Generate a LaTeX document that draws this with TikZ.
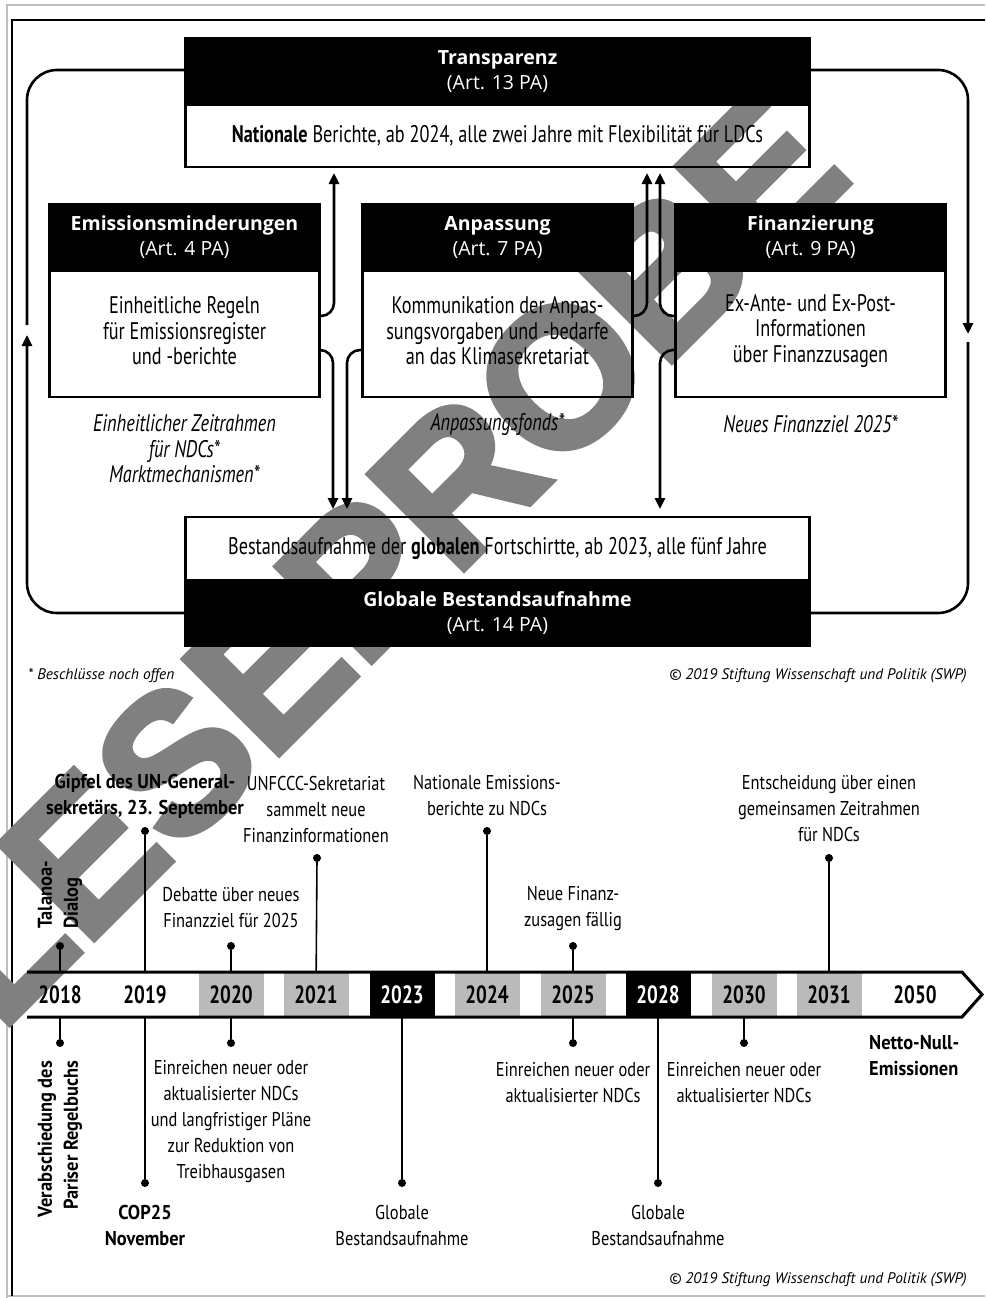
\documentclass[tikz,border=0pt]{standalone}
\usepackage{fontspec}
\setmainfont{PT Sans}[FakeStretch=0.76]
\newfontfamily\tlfont{PT Sans}[FakeStretch=0.82]
\newfontfamily\tlbfont{PT Sans}[FakeStretch=0.92]
\newfontfamily\titlefont{Open Sans}
\newfontfamily\wmfont{Liberation Sans}[FakeBold=3]
\newfontfamily\crfont{PT Sans}
\usetikzlibrary{arrows.meta}
\definecolor{wmgray}{gray}{0.5}
\definecolor{cellgray}{gray}{0.73}
\definecolor{framegray}{gray}{0.75}
\newcommand\fbody{\fontsize{24}{25.5}\selectfont}
\newcommand\ftitle{\titlefont\fontsize{19.5}{25}\selectfont}
\newcommand\fyear{\fontsize{25}{26}\selectfont\bfseries}
\newcommand\ftl{\tlfont\fontsize{20}{26}\selectfont}
\newcommand\ftlb{\tlbfont\bfseries\fontsize{20}{26}\selectfont}
\newcommand\fcr{\crfont\itshape\fontsize{15.3}{17}\selectfont}
\begin{document}
\begin{tikzpicture}[x=1pt,y=-1pt,
  box/.style={draw=black,line width=2.5pt,inner sep=0pt,outer sep=0pt},
  bar/.style={fill=black,text=white,inner sep=0pt,outer sep=0pt,align=center,font=\ftitle},
  btxt/.style={align=center,font=\fbody,inner sep=0pt},
  note/.style={align=center,font=\fbody\itshape,inner sep=0pt},
  lbl/.style={align=center,font=\ftl,inner sep=0pt},
  lblb/.style={align=center,font=\ftlb,inner sep=0pt},
  cell/.style={minimum width=65pt,minimum height=43pt,inner sep=0pt,outer sep=0pt,font=\fyear},
  dot/.style={circle,fill=black,inner sep=0pt,minimum size=8pt},
  pin/.style={line width=1.6pt},
  line/.style={line width=2.6pt},
  conn/.style={line width=2.6pt,-{Triangle[length=11pt,width=10pt]}},
]
\useasboundingbox (0,0) rectangle (985,1298);
% frame
\draw[framegray,line width=1.5pt] (985,5) -- (7,5) -- (7,1298);
\draw[framegray,line width=1.5pt] (7,1296) -- (985,1296);
\draw[black,line width=2pt] (985,20) -- (12,20) -- (12,1296);
% watermark
\node[text=wmgray,rotate=45,inner sep=0pt,font={\wmfont\bfseries\fontsize{196}{196}\selectfont}] (wm) at (380,558) {LESEPROBE};

% Transparenz
\node[box,minimum width=624pt,minimum height=128.5pt] (trBox) at (497.5,102.75) {};
\node[bar,minimum width=627pt,minimum height=69pt] (trBar) at (497.5,71.5) {\textbf{Transparenz}\\(Art. 13 PA)};
\node[btxt] (trTxt) at (497.5,136) {\textbf{Nationale} Berichte, ab 2024, alle zwei Jahre mit Flexibilität für LDCs};

% Emissionsminderungen
\node[box,minimum width=270pt,minimum height=192.5pt] (emBox) at (184.5,300.75) {};
\node[bar,minimum width=273pt,minimum height=69pt] (emBar) at (184.5,237.5) {\textbf{Emissionsminderungen}\\(Art. 4 PA)};
\node[btxt] (emTxt) at (184.5,331) {Einheitliche Regeln\\für Emissionsregister\\und -berichte};
\node[note] (emNote) at (184.5,449) {Einheitlicher Zeitrahmen\\für NDCs*\\Marktmechanismen*};

% Anpassung
\node[box,minimum width=270pt,minimum height=192.5pt] (anBox) at (497.5,300.75) {};
\node[bar,minimum width=273pt,minimum height=69pt] (anBar) at (497.5,237.5) {\textbf{Anpassung}\\(Art. 7 PA)};
\node[btxt] (anTxt) at (497.5,331) {Kommunikation der Anpas-\\sungsvorgaben und -bedarfe\\an das Klimasekretariat};
\node[note] (anNote) at (497.5,424) {Anpassungsfonds*};

% Finanzierung
\node[box,minimum width=270pt,minimum height=192.5pt] (fiBox) at (810.5,300.75) {};
\node[bar,minimum width=273pt,minimum height=69pt] (fiBar) at (810.5,237.5) {\textbf{Finanzierung}\\(Art. 9 PA)};
\node[btxt] (fiTxt) at (810.5,331) {Ex-Ante- und Ex-Post-\\Informationen\\über Finanzzusagen};
\node[note] (fiNote) at (810.5,424) {Neues Finanzziel 2025*};

% Globale Bestandsaufnahme
\node[box,minimum width=624pt,minimum height=129pt] (glBox) at (497.5,581.5) {};
\node[bar,minimum width=627pt,minimum height=68pt] (glBar) at (497.5,613) {\textbf{Globale Bestandsaufnahme}\\(Art. 14 PA)};
\node[btxt] (glTxt) at (497.5,548) {Bestandsaufnahme der \textbf{globalen} Fortschirtte, ab 2023, alle fünf Jahre};

% inner connectors
\draw[conn,rounded corners=13pt,shorten >=6pt] (emBox.east |- 0,316) -| (trBox.south -| 334,0);
\draw[conn,rounded corners=13pt,shorten >=8pt] (emBox.east |- 0,350) -| (glBox.north -| 333,0);
\draw[conn,rounded corners=13pt,shorten >=8pt] (anBox.west |- 0,350) -| (glBox.north -| 347,0);
\draw[conn,rounded corners=13pt,shorten >=6pt] (anBox.east |- 0,316) -| (trBox.south -| 647,0);
\draw[conn,rounded corners=13pt,shorten >=6pt] (fiBox.west |- 0,316) -| (trBox.south -| 660,0);
\draw[conn,rounded corners=13pt,shorten >=8pt] (fiBox.west |- 0,350) -| (glBox.north -| 660,0);

% outer loop
\coordinate (cR1) at (968,334);
\coordinate (cR2) at (968,342);
\coordinate (cL1) at (27,335);
\coordinate (cL2) at (27,325);
\draw[conn,rounded corners=30pt] (trBar.east |- 0,70) -| (cR1);
\draw[line,rounded corners=30pt] (cR2) |- (glBar.east |- 0,613);
\draw[conn,rounded corners=30pt] (glBar.west |- 0,613) -| (cL1);
\draw[line,rounded corners=30pt] (cL2) |- (trBar.west |- 0,70);

% footnotes
\node[anchor=west,inner sep=0pt,font=\fcr] (fn) at (28,676) {* Beschlüsse noch offen};
\node[anchor=east,inner sep=0pt,font=\fcr] (cr1) at (967,676) {© 2019 Stiftung Wissenschaft und Politik (SWP)};
\node[anchor=east,inner sep=0pt,font=\fcr] (cr2) at (967,1280) {© 2019 Stiftung Wissenschaft und Politik (SWP)};

% timeline cells
\node[cell] (y2018) at (60,994.5) {2018};
\node[cell] (y2019) at (145,994.5) {2019};
\node[cell,fill=cellgray] (y2020) at (231,994.5) {2020};
\node[cell,fill=cellgray] (y2021) at (316,994.5) {2021};
\node[cell,fill=black,text=white] (y2023) at (402,994.5) {2023};
\node[cell,fill=cellgray] (y2024) at (487,994.5) {2024};
\node[cell,fill=cellgray] (y2025) at (573,994.5) {2025};
\node[cell,fill=black,text=white] (y2028) at (658,994.5) {2028};
\node[cell,fill=cellgray] (y2030) at (744,994.5) {2030};
\node[cell,fill=cellgray] (y2031) at (829,994.5) {2031};
\node[cell] (y2050) at (915,994.5) {2050};
\draw[line width=3pt,line join=miter] (27,972) -- (962,972) -- (982,994.5) -- (962,1017) -- (27,1017);

% dots above
\node[dot] (a2018) at (60,946) {};
\node[dot] (a2019) at (145,831) {};
\node[dot] (a2020) at (231,946) {};
\node[dot] (a2021) at (317,858) {};
\node[dot] (a2024) at (487,831) {};
\node[dot] (a2025) at (573,946) {};
\node[dot] (a2031) at (829,858) {};
\foreach \y in {2018,2019,2020,2021,2024,2025,2031} \draw[pin] (a\y) -- (y\y);
% dots below
\node[dot] (b2018) at (60,1043) {};
\node[dot] (b2019) at (145,1183) {};
\node[dot] (b2020) at (231,1043) {};
\node[dot] (b2023) at (402,1183) {};
\node[dot] (b2025) at (573,1043) {};
\node[dot] (b2028) at (658,1183) {};
\node[dot] (b2030) at (744,1043) {};
\foreach \y in {2018,2019,2020,2023,2025,2028,2030} \draw[pin] (y\y) -- (b\y);

% labels above
\node[lblb,rotate=90,anchor=west,align=left] (t2018) at (60,929) {Talanoa-\\Dialog};
\node[lblb] (t2019) at (145,796) {Gipfel des UN-General-\\sekretärs, 23. September};
\node[lbl] (t2020) at (231,908) {Debatte über neues\\Finanzziel für 2025};
\node[lbl] (t2021) at (316,809) {UNFCCC-Sekretariat\\sammelt neue\\Finanzinformationen};
\node[lbl] (t2024) at (487,796) {Nationale Emissions-\\berichte zu NDCs};
\node[lbl] (t2025) at (573,908) {Neue Finanz-\\zusagen fällig};
\node[lbl] (t2031) at (829,809) {Entscheidung über einen\\gemeinsamen Zeitrahmen\\für NDCs};
% labels below
\node[lblb,rotate=90,anchor=east,align=right] (u2018) at (60,1061) {Verabschiedung des\\Pariser Regelbuchs};
\node[lblb] (u2019) at (145,1225) {COP25\\November};
\node[lbl] (u2020) at (231,1122) {Einreichen neuer oder\\aktualisierter NDCs\\und langfristiger Pläne\\zur Reduktion von\\Treibhausgasen};
\node[lbl] (u2023) at (402,1225) {Globale\\Bestandsaufnahme};
\node[lbl] (u2025) at (573,1083) {Einreichen neuer oder\\aktualisierter NDCs};
\node[lbl] (u2028) at (658,1225) {Globale\\Bestandsaufnahme};
\node[lbl] (u2030) at (744,1083) {Einreichen neuer oder\\aktualisierter NDCs};
\node[lblb,align=left,anchor=west] (u2050) at (869,1056) {Netto-Null-\\Emissionen};
\end{tikzpicture}
\end{document}
